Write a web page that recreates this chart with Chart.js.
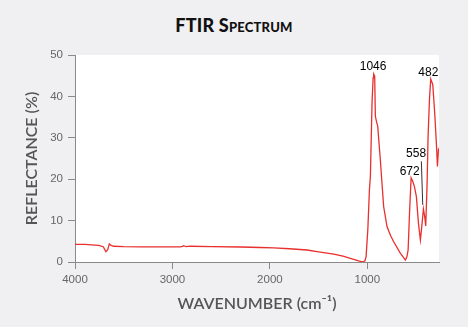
<!DOCTYPE html>
<html>
<head>
<meta charset="utf-8">
<script src="https://cdn.jsdelivr.net/npm/chart.js@4/dist/chart.umd.min.js"></script>
<style>
html,body{margin:0;padding:0;background:#f0f0f2;}
#wrap{position:relative;width:468px;height:327px;}
#title{position:absolute;left:0;top:14px;width:468px;text-align:center;font-family:Lato,"Open Sans",sans-serif;font-weight:900;font-size:18px;font-variant:small-caps;color:#111;letter-spacing:0.2px;}
canvas{position:absolute;left:0;top:0;}
</style>
</head>
<body>
<div id="wrap">
<div id="title">FTIR Spectrum</div>
<canvas id="c" width="468" height="327"></canvas>
</div>
<script>
// wavenumber (cm-1) and reflectance (%)
const wavenumbers = [4000,3900,3758,3710,3683,3665,3648,3630,3604,3500,3330,3100,2920,2895,2885,2870,2861,2840,2810,2600,2300,2100,1960,1800,1619,1500,1345,1250,1140,1090,1060,1044,1025,1013,995,979,969,952,941,935,925,918,905,894,867,833,798,760,730,661,630,610,595,582,566,551,535,517,497,476,456,442,425,412,401,387,377,363,350,329,309,292,281,271,262];
const reflectance = [4.28,4.25,4.0,3.7,2.5,2.9,4.36,4.0,3.8,3.7,3.63,3.63,3.63,3.75,3.95,3.8,3.7,3.75,3.8,3.7,3.62,3.5,3.4,3.2,2.9,2.45,1.9,1.4,0.65,0.3,0.1,0.0,0.3,1.3,8.0,17.4,20.7,38.5,44.5,45.4,44.9,35.2,33.8,32.8,24.7,13.4,8.5,6.3,4.9,2.1,1.1,0.5,1.2,2.9,12.6,20.3,19.5,18.2,15.8,9.4,5.3,8.5,12.8,11.0,8.7,19.0,30.3,39.2,44.2,42.9,36.0,28.7,23.1,27.1,27.6];
const xTickValues = [4000,3000,2000,1000];
const yTickValues = [0,10,20,30,40,50];
// peak labels: text, wavenumber and reflectance where the label sits
const peakLabels = ['1046','482','558','672'];
const peakLabelX = [941,374,500,566];
const peakLabelY = [47.2,45.8,26.1,21.8];
// leader line for the 558 label: [x1,y1,x2,y2] in data units
const leaderLine = [446,24.3,432,13.8];

const points = wavenumbers.map((w,i)=>({x:w,y:reflectance[i]}));

const plotBg = {
  id:'plotBg',
  beforeDraw(chart){
    const {ctx,chartArea:a}=chart;
    ctx.save();
    ctx.fillStyle='#ffffff';
    ctx.fillRect(a.left,a.top,a.right-a.left,a.bottom-a.top);
    ctx.restore();
  }
};
const peakPlugin = {
  id:'peaks',
  afterDatasetsDraw(chart){
    const {ctx,scales:{x,y}}=chart;
    ctx.save();
    ctx.strokeStyle='#333';
    ctx.lineWidth=1;
    ctx.beginPath();
    ctx.moveTo(x.getPixelForValue(leaderLine[0]),y.getPixelForValue(leaderLine[1]));
    ctx.lineTo(x.getPixelForValue(leaderLine[2]),y.getPixelForValue(leaderLine[3]));
    ctx.stroke();
    ctx.fillStyle='#000';
    ctx.font='12px "Liberation Sans", Arial, sans-serif';
    ctx.textAlign='center';
    ctx.textBaseline='middle';
    peakLabels.forEach((t,i)=>{
      ctx.fillText(t,x.getPixelForValue(peakLabelX[i]),y.getPixelForValue(peakLabelY[i]));
    });
    ctx.restore();
  }
};

new Chart(document.getElementById('c'),{
  type:'line',
  data:{datasets:[{data:points,borderColor:'#e8302e',borderWidth:1.3,pointRadius:0,tension:0,fill:false}]},
  options:{
    responsive:false,
    animation:false,
    layout:{padding:{left:0,right:29,top:55,bottom:0}},
    plugins:{legend:{display:false},tooltip:{enabled:false},title:{display:false}},
    scales:{
      x:{
        type:'linear',reverse:true,min:265,max:4000,
        afterBuildTicks(s){s.ticks=xTickValues.map(v=>({value:v}));},
        afterFit(s){s.height=65;},
        grid:{drawOnChartArea:false,drawTicks:true,tickLength:7,color:'#8a8a8a',lineWidth:1},
        border:{display:true,color:'#8a8a8a',width:1},
        ticks:{color:'#666',font:{family:'"Liberation Sans", Arial, sans-serif',size:11.5},padding:4,maxRotation:0,callback:v=>String(v)},
        title:{display:true,text:'WAVENUMBER (cm⁻¹)',color:'#555',font:{family:'Lato, sans-serif',size:16,weight:'600'},padding:{top:0,bottom:14}}
      },
      y:{
        min:0,max:50,
        afterBuildTicks(s){s.ticks=yTickValues.map(v=>({value:v}));},
        afterFit(s){s.width=75;},
        grid:{drawOnChartArea:false,drawTicks:true,tickLength:7,color:'#8a8a8a',lineWidth:1},
        border:{display:true,color:'#8a8a8a',width:1},
        ticks:{color:'#666',font:{family:'"Liberation Sans", Arial, sans-serif',size:11.5},padding:5,callback:v=>String(v)},
        title:{display:true,text:'REFLECTANCE (%)',color:'#555',font:{family:'Lato, sans-serif',size:16,weight:'600'},padding:{top:22,bottom:0}}
      }
    }
  },
  plugins:[plotBg,peakPlugin]
});
</script>
</body>
</html>
